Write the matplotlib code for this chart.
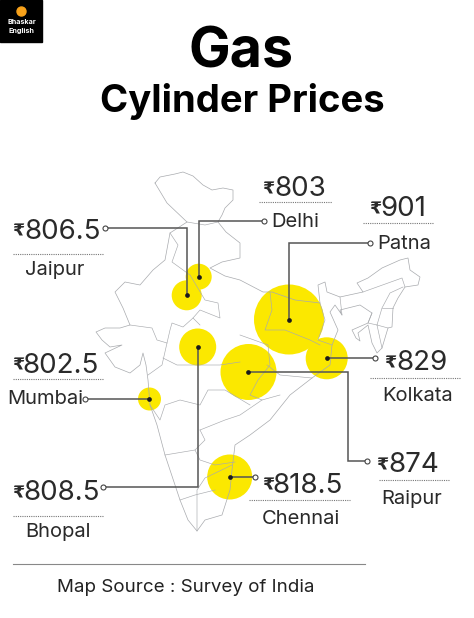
import matplotlib
matplotlib.use("Agg")
import matplotlib.pyplot as plt
from matplotlib.patches import Circle, Rectangle

plt.rcParams['font.family'] = ['Inter', 'DejaVu Sans']

cities = ["Jaipur", "Delhi", "Patna", "Kolkata", "Mumbai", "Bhopal", "Raipur", "Chennai"]
prices = ["806.5", "803", "901", "829", "802.5", "808.5", "874", "818.5"]
bubble_x = [186.7, 198.7, 289, 326.7, 149.5, 197.7, 248.5, 229.7]
bubble_y = [295.3, 276.7, 319.5, 358.3, 399, 347, 372, 477]
bubble_r = [15, 13, 35, 21, 11.5, 18.5, 28, 22.5]

# leader lines, from the bubble out to the open circle
leaders = [
    [(186.7, 295.3), (186.7, 228), (105, 228)],
    [(198.7, 276.7), (198.7, 221), (264, 221)],
    [(289, 319.5), (289, 243), (370, 243)],
    [(326.7, 358.3), (375, 358.3)],
    [(149.5, 399), (85, 399)],
    [(197.7, 347), (197.7, 487), (103, 487)],
    [(248.5, 372), (348, 372), (348, 461), (367, 461)],
    [(229.7, 477), (255, 477)],
]

# price right edge / baseline, rupee left edge, dotted rule, name centre
price_pos = [(101, 239), (326, 196), (426, 216), (448, 370), (99, 373), (100, 500), (439, 472), (343, 493)]
rupee_x = [12, 262, 369, 384, 12, 12, 376, 262]
rule_pos = [(13, 103, 254), (259, 332, 202), (363, 433, 223), (370, 460, 378),
            (13, 103, 379), (13, 103, 516), (379, 450, 480), (249, 350, 500)]
name_pos = [(55, 270), (295, 222), (404, 244), (418, 396), (45, 399), (58, 532), (412, 499), (301, 519)]

india_outline = [
    (155, 183), (160, 177), (175, 174), (183, 172), (193, 176), (203, 185), (212, 190), (223, 188), (233, 190),
    (233, 200), (225, 208), (222, 215), (218, 222), (226, 232), (240, 243), (240, 258), (222, 262), (210, 268),
    (225, 276), (240, 280), (263, 292), (272, 292), (295, 300), (320, 303), (318, 285), (325, 282), (327, 292),
    (340, 297), (363, 292), (357, 283), (368, 278), (382, 268), (400, 260), (408, 258), (410, 270), (420, 277),
    (418, 285), (405, 287), (398, 298), (393, 308), (392, 327), (388, 328), (382, 348), (377, 353), (372, 343),
    (368, 325), (358, 333), (360, 341), (356, 338), (352, 330), (368, 323), (372, 313), (360, 305), (340, 310),
    (342, 315), (335, 305), (330, 312), (338, 330), (332, 345), (330, 365),
    (312, 378), (290, 395), (270, 420), (250, 435), (235, 445), (232, 470), (230, 490), (222, 515), (205, 520),
    (197, 531), (188, 520), (180, 500), (165, 455), (157, 425), (150, 405), (148, 380), (146, 365), (143, 353),
    (140, 365), (130, 373), (115, 367), (105, 353), (122, 345), (110, 347), (102, 340), (96, 332), (105, 328),
    (120, 328), (130, 325), (123, 308), (115, 292), (125, 282), (140, 285), (153, 270), (165, 260),
    (170, 233), (187, 222), (167, 203), (155, 183),
]
state_borders = [
    [(187, 222), (205, 225), (218, 222)],
    [(170, 233), (178, 245), (172, 262), (190, 275), (205, 300), (218, 303), (220, 318), (200, 310), (193, 318), (200, 325)],
    [(130, 325), (152, 328), (157, 340), (167, 343), (162, 365), (148, 375)],
    [(167, 343), (170, 330), (172, 323), (183, 327), (193, 318)],
    [(163, 358), (177, 365), (200, 365), (220, 365), (240, 362)],
    [(150, 405), (160, 420), (165, 405), (180, 400), (200, 405), (208, 390), (225, 390), (250, 405)],
    [(200, 430), (205, 440), (195, 450), (200, 460), (215, 465), (235, 462)],
    [(200, 430), (225, 420), (240, 415), (262, 400), (280, 395)],
    [(165, 455), (195, 450)],
    [(180, 500), (195, 495), (215, 490)],
    [(197, 531), (197, 490), (205, 478), (232, 465)],
    [(270, 292), (272, 310), (265, 330), (285, 330), (310, 340), (320, 345)],
    [(320, 303), (325, 320), (318, 340), (332, 345)],
    [(240, 335), (268, 345), (270, 365), (258, 380), (250, 395), (262, 400)],
    [(267, 365), (280, 375), (312, 378)],
    [(340, 297), (342, 315)],
    [(363, 292), (402, 278), (405, 287)],
    [(403, 287), (390, 293), (382, 308), (377, 325), (388, 328)],
    [(382, 308), (393, 308)],
    [(377, 325), (382, 348)],
    [(372, 313), (368, 323), (377, 325)],
]
logo_text = ["Bhaskar", "English"]
source = "Map Source : Survey of India"

fig = plt.figure(figsize=(4.74, 6.18), dpi=100)
ax = fig.add_axes([0, 0, 1, 1])
ax.set_xlim(0, 474)
ax.set_ylim(618, 0)
ax.axis("off")

# logo
ax.add_patch(Rectangle((0, 0), 42.5, 42, color="black"))
ax.add_patch(Circle((21.5, 11.5), 4.5, color="#f7a11a"))
ax.text(21.5, 22, logo_text[0], color="white", fontsize=5.2, fontweight="bold", ha="center", va="center")
ax.text(21.5, 31, logo_text[1], color="white", fontsize=5.2, fontweight="bold", ha="center", va="center")

# titles
ax.text(241, 53, "Gas", fontsize=40, fontweight="bold", ha="center", va="center", color="black")
ax.text(242, 101, "Cylinder Prices", fontsize=27.5, fontweight="bold", ha="center", va="center", color="black")

# bubbles go under the map lines, the borders show through
for x, y, r in zip(bubble_x, bubble_y, bubble_r):
    ax.add_patch(Circle((x, y), r, color="#fbe800", lw=0, zorder=1))

xs, ys = zip(*india_outline)
ax.plot(xs, ys, color="#a8aaae", lw=0.5, zorder=2)
for seg in state_borders:
    xs, ys = zip(*seg)
    ax.plot(xs, ys, color="#a8aaae", lw=0.45, zorder=2)

for pts in leaders:
    xs, ys = zip(*pts)
    ax.plot(xs, ys, color="#555555", lw=1.1, zorder=3, solid_joinstyle="miter")
    ax.plot(xs[0], ys[0], "o", color="#1a1a1a", ms=3.4, mew=0, zorder=4)
    ax.plot(xs[-1], ys[-1], "o", mfc="white", mec="#444444", ms=3.6, mew=0.8, zorder=4)

for i in range(len(cities)):
    px, py = price_pos[i]
    ax.text(px, py, prices[i], fontsize=20, ha="right", va="baseline", color="#2a2a2a")
    ax.text(rupee_x[i], py - 2, "₹", fontsize=12.5, fontweight="bold", ha="left", va="baseline", color="#2a2a2a",
            family=["DejaVu Sans"])
    x0, x1, ry = rule_pos[i]
    ax.plot([x0, x1], [ry, ry], color="#777777", lw=0.8, ls=(0, (1, 1)), zorder=1)
    nx, ny = name_pos[i]
    ax.text(nx, ny, cities[i], fontsize=14.5, ha="center", va="center", color="#2a2a2a")

ax.plot([13, 365], [564, 564], color="#888888", lw=0.8)
ax.text(186, 587, source, fontsize=13.5, ha="center", va="center", color="#222222")

fig.savefig("out.png", dpi=100)
